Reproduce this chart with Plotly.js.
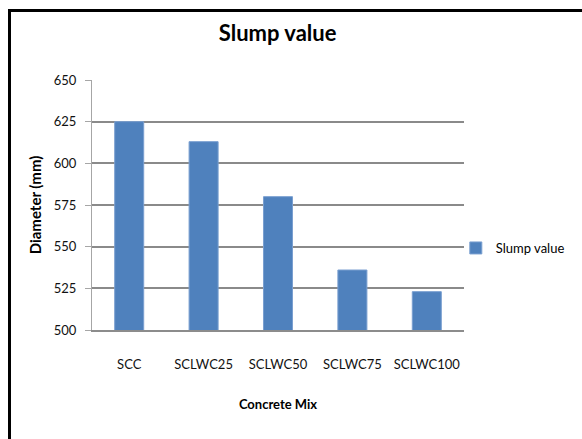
<!DOCTYPE html>
<html>
<head>
<meta charset="utf-8">
<script src="https://cdn.plot.ly/plotly-3.0.1.min.js"></script>
<style>
  html, body { margin: 0; padding: 0; background: #fff; }
  #frame { position: absolute; left: 0; top: 0; width: 582px; height: 439px; overflow: hidden; }
  #box { position: absolute; left: 8px; top: 9px; width: 600px; height: 460px;
         border-left: 3px solid #000; border-top: 3px solid #000; }
  #chart { position: absolute; left: 0; top: 0; width: 582px; height: 439px; }
</style>
</head>
<body>
<div id="frame">
  <div id="box"></div>
  <div id="chart"></div>
</div>
<script>
// Slump flow diameter for each concrete mix
const mixes = ['SCC', 'SCLWC25', 'SCLWC50', 'SCLWC75', 'SCLWC100'];
const slumpDiameter = [625, 613, 580, 536, 523];
const yTicks = [500, 525, 550, 575, 600, 625, 650];
const seriesName = 'Slump value';

const FONT = 'Lato, "Open Sans", sans-serif';

const trace = {
  type: 'bar',
  x: mixes,
  y: slumpDiameter,
  name: seriesName,
  marker: { color: '#4F81BD', line: { color: '#7A9FD0', width: 1 } },
  showlegend: true,
  hoverinfo: 'x+y'
};

const layout = {
  width: 582,
  height: 439,
  paper_bgcolor: 'rgba(0,0,0,0)',
  plot_bgcolor: '#ffffff',
  margin: { l: 92, r: 115, t: 80, b: 109, pad: 0 },
  bargap: 0.61,
  showlegend: true,
  title: {
    text: '<b>Slump value</b>',
    font: { family: FONT, size: 22, color: '#000' },
    x: 0.477, xanchor: 'center',
    y: 0.925, yanchor: 'middle'
  },
  legend: {
    x: 0.978, xanchor: 'left',
    y: 0.328, yanchor: 'middle',
    font: { family: FONT, size: 13, color: '#000' },
    itemwidth: 30,
    bgcolor: 'rgba(0,0,0,0)'
  },
  xaxis: {
    type: 'category',
    showline: true, linecolor: '#8c8c8c', linewidth: 2,
    ticks: '', showgrid: false,
    tickfont: { family: FONT, size: 13, color: '#111' },
    ticklabelstandoff: 21,
    title: {
      text: '<b>Concrete Mix</b>',
      font: { family: FONT, size: 13, color: '#000' },
      standoff: 29
    }
  },
  yaxis: {
    range: [500, 650],
    tickvals: yTicks,
    ticktext: yTicks.map(String),
    showline: true, linecolor: '#a6a6a6', linewidth: 1,
    ticks: 'outside', ticklen: 6, tickcolor: '#a6a6a6', tickwidth: 1,
    showgrid: true, gridcolor: '#8a8a8a', gridwidth: 2,
    zeroline: false,
    tickfont: { family: FONT, size: 13, color: '#111' },
    ticklabelstandoff: 6,
    title: {
      text: '<b>Diameter (mm)</b>',
      font: { family: FONT, size: 15, color: '#000' },
      standoff: 8
    }
  }
};

Plotly.newPlot('chart', [trace], layout, { displayModeBar: false, staticPlot: true });
</script>
</body>
</html>
